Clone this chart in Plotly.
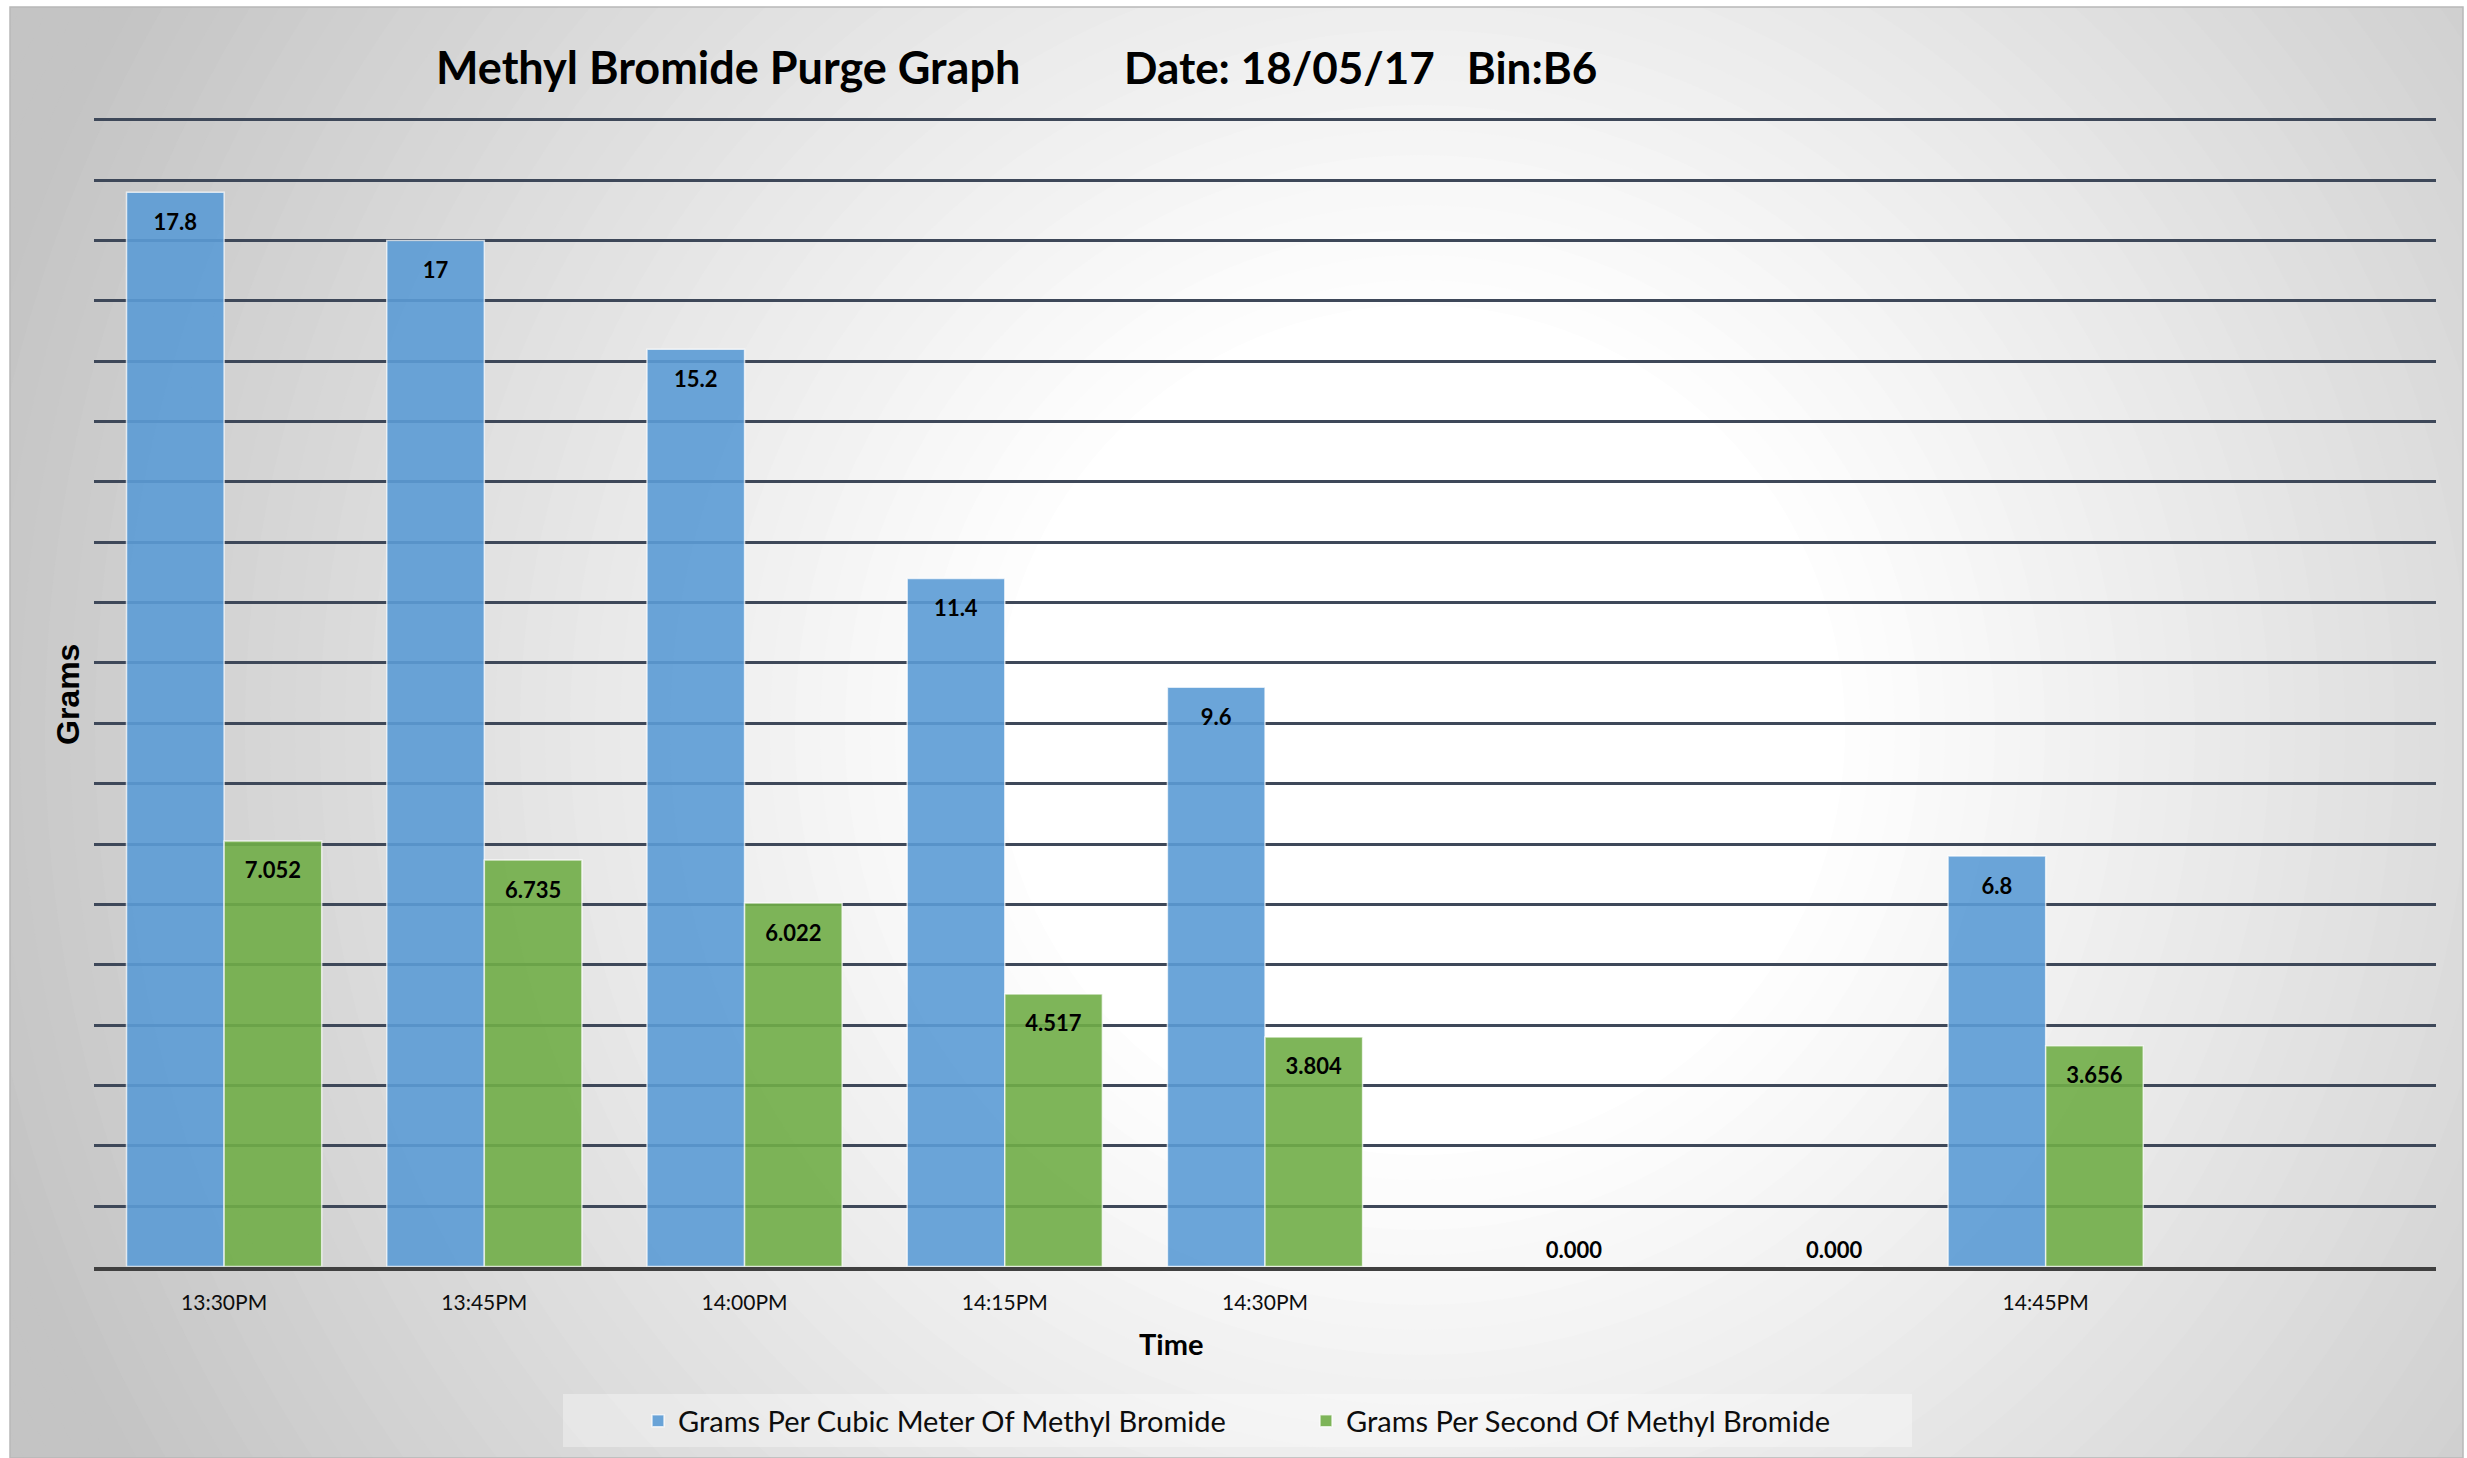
import plotly.graph_objects as go
import numpy as np

# ---------------- data ----------------
times = ["13:30PM", "13:45PM", "14:00PM", "14:15PM", "14:30PM", "", "", "14:45PM", ""]
per_cubic_meter = [17.8, 17, 15.2, 11.4, 9.6, None, None, 6.8, None]
per_second = [7.052, 6.735, 6.022, 4.517, 3.804, 0.0, 0.0, 3.656, None]
series_names = ["Grams Per Cubic Meter Of Methyl Bromide", "Grams Per Second Of Methyl Bromide"]
y_grid = list(range(0, 20))
title_text = "Methyl Bromide Purge Graph"
date_text = "Date: 18/05/17\u00a0\u00a0\u00a0Bin:B6"
x_title = "Time"
y_title = "Grams"

# ---------------- geometry helpers (figure pixels -> paper) ----------------
W, H = 2467, 1458


def fx(p):
    return p / W


def fy(p):
    return 1 - p / H


x_pos = list(range(len(times)))

fig = go.Figure()

# small first line pushes the value a bit lower inside the bar (like Excel's inside-end labels)
label_font = dict(family="Lato", size=15, color="#000000", weight="bold")
lbl = "\u00a0<br><span style='font-size:22px'>{}</span>"

fig.add_trace(go.Bar(
    x=x_pos, y=per_cubic_meter, name=series_names[0],
    marker=dict(color="rgba(91,155,213,0.9)", line=dict(color="rgba(255,255,255,0.7)", width=1.5)),
    texttemplate=lbl.format("%{y}"),
    textposition=["outside" if v == 0 else "inside" for v in per_cubic_meter],
    insidetextanchor="end", constraintext="none", cliponaxis=False,
    textfont=label_font, hoverinfo="skip",
))
fig.add_trace(go.Bar(
    x=x_pos, y=per_second, name=series_names[1],
    marker=dict(color="rgba(112,173,71,0.9)", line=dict(color="rgba(255,255,255,0.7)", width=1.5)),
    texttemplate=lbl.format("%{y:.3f}"),
    textposition=["outside" if v == 0 else "inside" for v in per_second],
    insidetextanchor="end", constraintext="none", cliponaxis=False,
    textfont=label_font, hoverinfo="skip",
))

# ---------------- background: radial grey gradient approximated by rings ----------------
shapes = []
cx, cy = 1420, 730
r_in, r_out = 420, 1500
g_in, g_out = 255, 196
for r in np.arange(1900, r_in - 1, -25):
    t = min(max((r - r_in) / (r_out - r_in), 0), 1)
    g = int(round(g_in - t * (g_in - g_out)))
    shapes.append(dict(type="circle", xref="paper", yref="paper", layer="below",
                       x0=fx(cx - r), x1=fx(cx + r), y0=fy(cy + r), y1=fy(cy - r),
                       fillcolor=f"rgb({g},{g},{g})", line=dict(width=0)))
# white outer frame
for (a, b, c, d) in [(0, 0, 10, H), (0, 0, W, 7), (2463, 0, W, H)]:
    shapes.append(dict(type="rect", xref="paper", yref="paper", layer="below",
                       x0=fx(a), x1=fx(c), y0=fy(d), y1=fy(b),
                       fillcolor="white", line=dict(width=0)))
shapes.append(dict(type="rect", xref="paper", yref="paper", layer="below",
                   x0=fx(10), x1=fx(2463), y0=fy(1458), y1=fy(7),
                   fillcolor="rgba(0,0,0,0)", line=dict(color="#b8b8b8", width=1.5)))
# legend box
shapes.append(dict(type="rect", xref="paper", yref="paper", layer="below",
                   x0=fx(563), x1=fx(1912), y0=fy(1447), y1=fy(1394),
                   fillcolor="rgba(255,255,255,0.35)", line=dict(width=0)))

annotations = [
    dict(text=title_text, x=fx(434), y=fy(67), xref="paper", yref="paper",
         xanchor="left", yanchor="middle", showarrow=False,
         font=dict(family="Lato", size=45, color="#000000", weight="bold")),
    dict(text=date_text, x=fx(1122), y=fy(67), xref="paper", yref="paper",
         xanchor="left", yanchor="middle", showarrow=False,
         font=dict(family="Lato", size=44, color="#000000", weight="bold")),
    dict(text=y_title, x=fx(68), y=fy(695), xref="paper", yref="paper",
         xanchor="center", yanchor="middle", showarrow=False, textangle=-90,
         font=dict(family="Liberation Sans", size=32, color="#000000", weight="bold")),
    dict(text=x_title, x=fx(1171), y=fy(1343), xref="paper", yref="paper",
         xanchor="center", yanchor="middle", showarrow=False,
         font=dict(family="Lato", size=29, color="#000000", weight="bold")),
]

y_top = 19.03
fig.update_layout(
    width=W, height=H,
    margin=dict(l=0, r=0, t=0, b=0),
    paper_bgcolor="white", plot_bgcolor="rgba(0,0,0,0)",
    barmode="group", bargap=0.25, bargroupgap=0,
    shapes=shapes, annotations=annotations,
    xaxis=dict(domain=[fx(94), fx(2436)], range=[-0.5, len(times) - 0.5],
               tickmode="array", tickvals=x_pos, ticktext=times,
               showgrid=False, zeroline=False, showline=True,
               linecolor="#404040", linewidth=4, ticks="",
               ticklabelstandoff=14,
               tickfont=dict(family="Lato", size=21, color="#0d0d0d"),
               fixedrange=True),
    yaxis=dict(domain=[fy(1266.5), fy(1266.5 - 60.35 * y_top)], range=[0, y_top],
               tickmode="array", tickvals=y_grid, showticklabels=False,
               showgrid=True, gridcolor="#3e4859", gridwidth=3,
               zeroline=False, showline=False, ticks="", fixedrange=True),
    legend=dict(orientation="h", x=fx(638), xanchor="left", y=fy(1421), yanchor="middle",
                bgcolor="rgba(0,0,0,0)", borderwidth=0,
                font=dict(family="Lato", size=29, color="#0d0d0d"),
                entrywidth=623, entrywidthmode="pixels", itemclick=False,
                itemdoubleclick=False),
    showlegend=True,
)

fig.write_html("out.html", config={"displayModeBar": False},
               post_script="document.body.style.margin='0px';")
